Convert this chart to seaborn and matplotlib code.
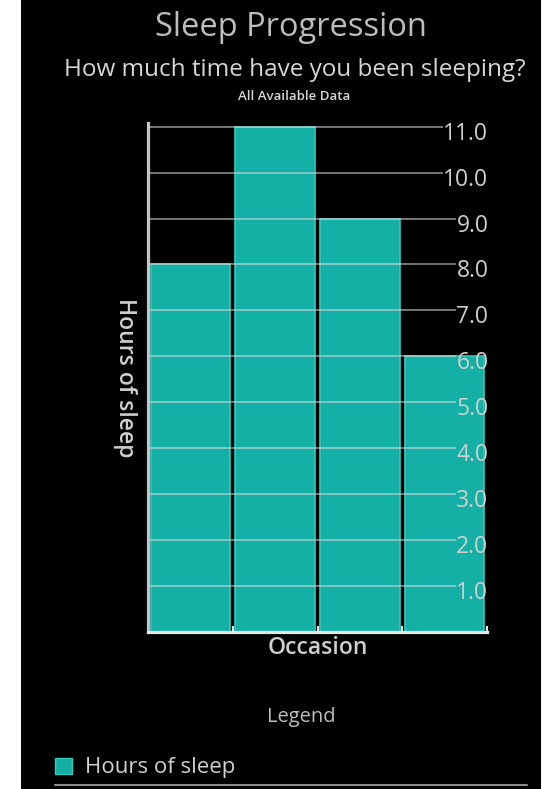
import matplotlib
matplotlib.use("Agg")
import matplotlib.pyplot as plt
import matplotlib.transforms as mtransforms
from matplotlib.patches import Patch, Rectangle
from matplotlib.lines import Line2D
import seaborn as sns
import pandas as pd

# Data
occasions = ["1", "2", "3", "4"]
hours_of_sleep = [8.0, 11.0, 9.0, 6.0]
y_ticks = [1.0, 2.0, 3.0, 4.0, 5.0, 6.0, 7.0, 8.0, 9.0, 10.0, 11.0]

title = "Sleep Progression"
subtitle = "How much time have you been sleeping?"
caption = "All Available Data"
series_name = "Hours of sleep"

BAR = "#14b0a5"
BAR_EDGE = "#36c8bd"
TEXT = "#cfcfcf"

sns.set_theme(style="dark")
plt.rcParams["font.family"] = ["Open Sans", "DejaVu Sans"]

fig = plt.figure(figsize=(5.43, 7.89), dpi=100, facecolor="white")
W, H = 543, 789

def fx(px):
    return px / W

def fy(py):
    return 1 - py / H

# dark screen area
fig.patches.append(Rectangle((fx(21), 0), fx(541) - fx(21), 1, transform=fig.transFigure,
                             facecolor="black", edgecolor="none", zorder=-10))

ax = fig.add_axes([fx(148), fy(632), fx(487) - fx(148), fy(123) - fy(632)])
ax.set_facecolor("black")

df = pd.DataFrame({"Occasion": occasions, series_name: hours_of_sleep})
sns.barplot(data=df, x="Occasion", y=series_name, color=BAR, saturation=1,
            width=0.94, edgecolor=BAR_EDGE, linewidth=1.2, ax=ax, zorder=2)

ax.set_xlim(-0.5, len(occasions) - 0.5)
ax.set_ylim(0, 11.08)

# spines
for side in ["top", "right"]:
    ax.spines[side].set_visible(False)
ax.spines["left"].set_color("#c4c4c4")
ax.spines["left"].set_linewidth(2.3)
ax.spines["bottom"].set_color("#e6e6e6")
ax.spines["bottom"].set_linewidth(2.3)
ax.spines["left"].set_zorder(5)
ax.spines["bottom"].set_zorder(5)

# x ticks: small inward marks at bar boundaries
ax.set_xticks([])
ax.set_xticks([i + 0.5 for i in range(len(occasions))], minor=True)
ax.tick_params(axis="x", which="minor", direction="in", length=4, width=1.5,
               color="#e6e6e6", bottom=True)
ax.set_xticklabels([], minor=True)

# y tick labels inside the plot, right aligned at the right edge
ax.yaxis.tick_right()
ax.set_yticks(y_ticks)
ax.set_yticklabels([f"{v:.1f}" for v in y_ticks])
ax.tick_params(axis="y", length=0, pad=1, labelsize=16.5, labelcolor=TEXT)
offset = mtransforms.ScaledTranslation(0, -4 / 100, fig.dpi_scale_trans)
for lab in ax.get_yticklabels():
    lab.set_horizontalalignment("right")
    lab.set_fontweight("medium")
    lab.set_transform(lab.get_transform() + offset)
ax.yaxis.set_zorder(10)
ax.grid(False)

ax.set_xlabel("Occasion", fontsize=16.5, color=TEXT, fontweight="semibold")
ax.xaxis.set_label_coords(0.5, -16 / 509)
ax.xaxis.label.set_va("center")
ax.set_ylabel(series_name, fontsize=16.5, color=TEXT, fontweight="semibold", rotation=270)
ax.yaxis.set_label_position("left")
ax.yaxis.set_label_coords(-23 / 339, 0.5)
ax.yaxis.label.set_va("center")

# titles
fig.text(fx(291), fy(27), title, ha="center", va="center", fontsize=23.5, color="#bdbdbd")
fig.text(fx(295), fy(70), subtitle, ha="center", va="center", fontsize=17.5, color="#d6d6d6",
         fontweight="medium")
fig.text(fx(294), fy(97), caption, ha="center", va="center", fontsize=9.5, color="#d6d6d6",
         fontweight="semibold")

# legend
fig.text(fx(301), fy(717), "Legend", ha="center", va="center", fontsize=14.5, color="#bdbdbd")
handle = Patch(facecolor=BAR, edgecolor=BAR_EDGE, label=series_name)
fig.legend(handles=[handle], loc="center left", bbox_to_anchor=(fx(55), fy(768)),
           frameon=False, fontsize=16, labelcolor=TEXT, handlelength=0.75,
           handleheight=0.75, handletextpad=0.6, borderaxespad=0, borderpad=0,
           prop={"weight": "medium", "size": 16})
fig.lines.append(Line2D([fx(55), fx(527)], [fy(785), fy(785)], transform=fig.transFigure,
                        color="#8c8c8c", linewidth=1.5))

# grid lines run from the left axis up to each tick label
fig.canvas.draw()
renderer = fig.canvas.get_renderer()
inv = ax.transData.inverted()
for lab, v in zip(ax.get_yticklabels(), y_ticks):
    bb = lab.get_window_extent(renderer)
    x_end = inv.transform((bb.x0, 0))[0]
    ax.hlines(v, -0.5, x_end, colors="#d8d8d8", linewidth=1.4, alpha=0.55, zorder=3)

fig.savefig("out.png", dpi=100, facecolor=fig.get_facecolor())
